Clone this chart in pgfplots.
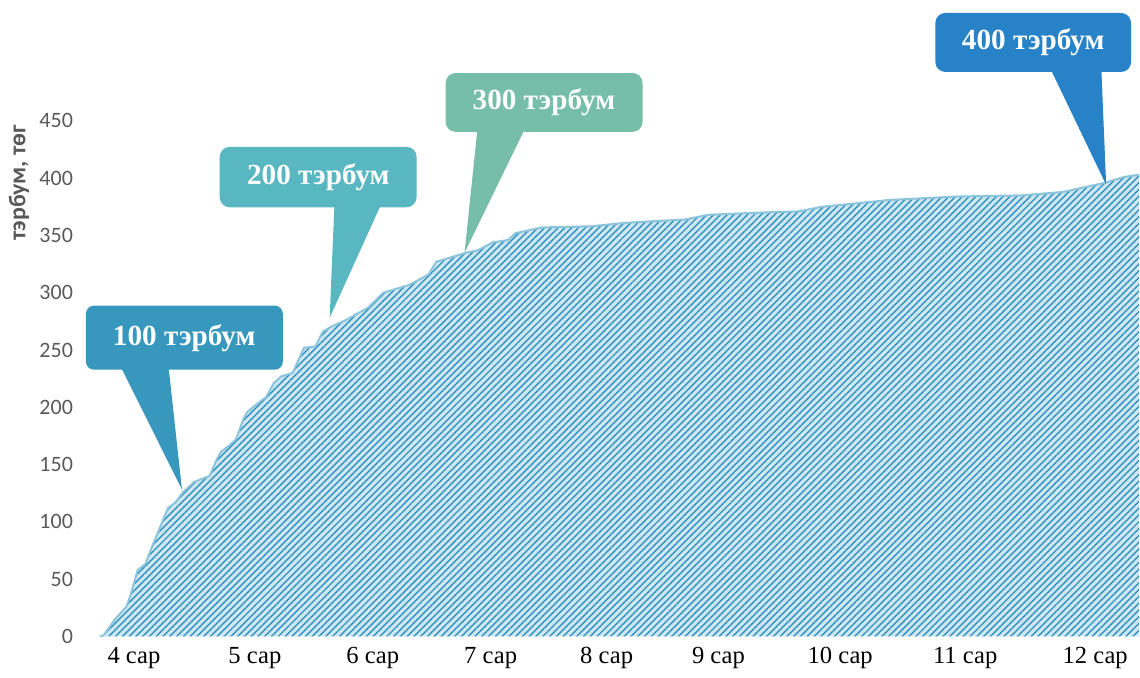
\documentclass[border=0pt]{standalone}
\usepackage{fontspec}
\setmainfont{Liberation Serif}
\newfontfamily\carlito{Carlito}
\usepackage{pgfplots}
\usepackage{pgfplotstable}
\pgfplotsset{compat=1.18}
\usetikzlibrary{patterns.meta}

\definecolor{areafill}{HTML}{CFE7F2}
\definecolor{arealine}{HTML}{3192C0}
\definecolor{areaedge}{HTML}{8CC4DC}
\definecolor{callA}{HTML}{3797BD}
\definecolor{callB}{HTML}{58B7C0}
\definecolor{callC}{HTML}{76BEA8}
\definecolor{callD}{HTML}{2782C7}
\definecolor{tickgray}{HTML}{595959}

% cumulative total by day (day 0 = start of 4 сар)
\pgfplotstableread{
day value
0 0
1 1
4 15
7 26
8 35
10 58
12 63
14 80
16 96
18 112
20 117
22 126
25 135
29 140
31 155
32 161
34 166
36 172
38 190
39 196
42 204
44 209
46 221
48 227
51 230
54 252
57 253
59 266
61 270
65 276
71 287
75 300
79 304
82 307
87 316
89 327
93 331
97 335
100 337
104 344
108 346
110 352
117 357
130 358
139 361
155 364
161 368
175 370
185 371
191 375
209 381
227 384
244 385
255 388
266 396
271 401
275 403
}\cumul

\begin{document}
\begin{tikzpicture}
\begin{axis}[
    width=520pt, height=258pt, scale only axis,
    xmin=0, xmax=275, ymin=0, ymax=450,
    clip=false,
    axis lines*=left,
    axis line style={draw=none},
    tick style={draw=none},
    ytick={0,50,...,450},
    xtick={9,41,72.2,103.4,134.1,163.7,195.9,229,263.4},
    xticklabels={4 сар,5 сар,6 сар,7 сар,8 сар,9 сар,10 сар,11 сар,12 сар},
    /pgf/number format/assume math mode=true,
    yticklabel style={font=\carlito\fontsize{11}{13}\selectfont, text=tickgray, xshift=-10pt},
    xticklabel style={font=\fontsize{12.3}{14}\selectfont, text=black, yshift=-2pt},
    ylabel={тэрбум, төг},
    ylabel style={font=\carlito\bfseries\fontsize{12}{14}\selectfont, text=tickgray,
        at={(rel axis cs:-0.078,0.88)}, anchor=center},
]
\path (rel axis cs:-0.0962,-0.0795) rectangle (rel axis cs:1,1.2345);

\addplot[fill=areafill, draw=none,
    postaction={pattern={Lines[angle=45,distance=2.4pt,line width=0.7pt]}, pattern color=arealine}]
    table[x=day,y=value]{\cumul} \closedcycle;
\addplot[areaedge, line width=1pt] table[x=day,y=value]{\cumul};

% callouts
\fill[callA, rounded corners=4pt] (axis cs:-3.7,232.8) rectangle (axis cs:48.4,288.7);
\fill[callA] (axis cs:4.8,240) -- (axis cs:18.0,240) -- (axis cs:21.7,128.2) -- cycle;
\node[text=white, font=\bfseries\fontsize{14.6}{16}\selectfont] at (axis cs:22.3,260.7) {100 тэрбум};

\fill[callB, rounded corners=5pt] (axis cs:31.7,374.6) rectangle (axis cs:83.8,427.3);
\fill[callB] (axis cs:62.1,380) -- (axis cs:74.8,380) -- (axis cs:60.8,278.2) -- cycle;
\node[text=white, font=\bfseries\fontsize{14.6}{16}\selectfont] at (axis cs:57.8,401) {200 тэрбум};

\fill[callC, rounded corners=5pt] (axis cs:91.5,440.4) rectangle (axis cs:143.6,491.8);
\fill[callC] (axis cs:100.0,446) -- (axis cs:112.9,446) -- (axis cs:96.5,334.9) -- cycle;
\node[text=white, font=\bfseries\fontsize{14.6}{16}\selectfont] at (axis cs:117.5,466.1) {300 тэрбум};

\fill[callD, rounded corners=5pt] (axis cs:221.1,492.7) rectangle (axis cs:272.9,544.2);
\fill[callD] (axis cs:251.2,498) -- (axis cs:265.0,498) -- (axis cs:266.3,394.2) -- cycle;
\node[text=white, font=\bfseries\fontsize{14.6}{16}\selectfont] at (axis cs:247,518.5) {400 тэрбум};
\end{axis}
\end{tikzpicture}
\end{document}
